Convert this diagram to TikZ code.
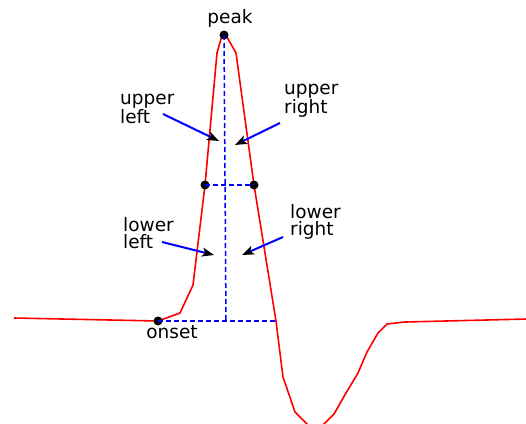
\documentclass[tikz,border=0pt]{standalone}
\usepackage{fontspec}
\setmainfont{DejaVu Sans}
\usetikzlibrary{arrows.meta}
\definecolor{sigred}{RGB}{255,0,0}
\definecolor{guideblue}{RGB}{0,0,255}
\tikzset{
  gsignal/.style ={line width=1.6pt, sigred, line join=round},
  gguide/.style  ={line width=1.5pt, guideblue, dash pattern=on 5pt off 3pt},
  gdot/.style    ={circle, fill=black, minimum size=9pt, inner sep=0pt},
  glabel/.style  ={inner sep=0pt, align=left, font=\fontsize{18.5}{17}\selectfont},
  gpointer/.style={line width=2pt, guideblue,
                   -{Stealth[length=12pt, width=9pt, inset=3pt, black]}},
}
\begin{document}
\begin{tikzpicture}[x=1pt, y=-1pt]
  \useasboundingbox (0,0) rectangle (526,423);
  \clip (0,0) rectangle (526,423);
  % the signal
  \draw[gsignal] plot coordinates {(14,318) (158,321) (180,313) (193,285)
    (205,185) (217,53) (221,39) (224,35) (227,37) (236,53) (254,185)
    (276,321) (283,377) (295,412) (309,426) (322,426) (334,414) (346,393)
    (358,373) (367,352) (378,333) (387,324) (405,322) (527,319)};
  % guide lines
  \node[gdot] (peak)  at (224,35)  {};
  \node[gdot] (midL)  at (205,185) {};
  \node[gdot] (midR)  at (254,185) {};
  \node[gdot] (onset) at (158,321) {};
  \coordinate (foot) at (226,321);
  \coordinate (cross) at (276,321);
  \draw[gguide] (peak.center) -- (foot);
  \draw[gguide] (midL.center) -- (midR.center);
  \draw[gguide] (onset.center) -- (cross);
  % labels
  \node[glabel, anchor=base] (peaklbl)  at (230,23)  {peak};
  \node[glabel, anchor=base] (onsetlbl) at (172,338) {onset};
  \node[glabel, anchor=base west] (ul) at (120,123) {upper\\left};
  \node[glabel, anchor=base west] (ur) at (284,113) {upper\\right};
  \node[glabel, anchor=base west] (ll) at (123,248) {lower\\left};
  \node[glabel, anchor=base west] (lr) at (290,235) {lower\\right};
  % pointers
  \coordinate (ulA) at (163,114); \coordinate (ulB) at (219,141);
  \coordinate (urA) at (280,123); \coordinate (urB) at (235,145);
  \coordinate (llA) at (162,242); \coordinate (llB) at (214,255);
  \coordinate (lrA) at (283,237); \coordinate (lrB) at (242,255);
  \draw[gpointer] (ulA) -- (ulB);
  \draw[gpointer] (urA) -- (urB);
  \draw[gpointer] (llA) -- (llB);
  \draw[gpointer] (lrA) -- (lrB);
\end{tikzpicture}
\end{document}
